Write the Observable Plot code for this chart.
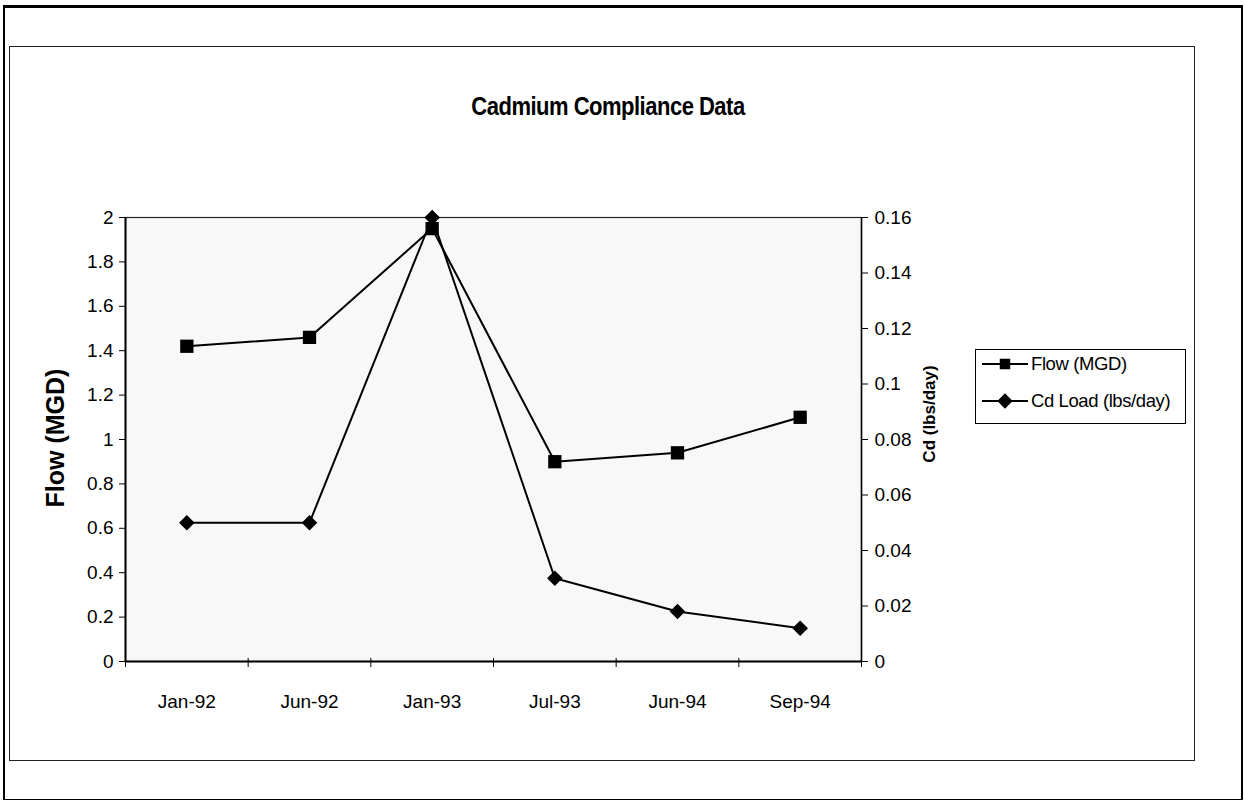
<!DOCTYPE html>
<html>
<head>
<meta charset="utf-8">
<script src="https://cdn.jsdelivr.net/npm/d3@7"></script>
<script src="https://cdn.jsdelivr.net/npm/@observablehq/plot@0.6"></script>
<style>
  html, body { margin: 0; padding: 0; background: #fff; }
  #page { position: relative; width: 1244px; height: 800px; overflow: hidden; font-family: "Liberation Sans", Arial, sans-serif; color: #000; }
  #outer { position: absolute; left: 3px; top: 5px; width: 1236px; height: 791px; border: 2px solid #000; border-top-width: 3px; }
  #inner { position: absolute; left: 9px; top: 46px; width: 1184px; height: 713px; border: 1px solid #222; }
  #title { position: absolute; left: 608px; top: 107px; transform: translate(-50%, -50%) scaleY(1.15); font-weight: bold; font-size: 22px; letter-spacing: -0.5px; white-space: nowrap; }
  .ytitle { position: absolute; font-weight: bold; white-space: nowrap; transform: translate(-50%, -50%) rotate(-90deg); }
  #chart { position: absolute; left: 0; top: 0; }
  #legend { position: absolute; left: 975px; top: 349px; width: 209px; height: 73px; border: 1px solid #000; background: #fff; }
  .lg { position: absolute; left: 6px; height: 22px; display: flex; align-items: center; font-size: 18.5px; white-space: nowrap; letter-spacing: -0.4px; }
  .lg svg { margin-right: 3px; display: block; }
</style>
</head>
<body>
<div id="page">
  <div id="outer"></div>
  <div id="inner"></div>
  <div id="title"></div>
  <div id="chart"></div>
  <div class="ytitle" id="yl" style="left:55px; top:438px; font-size:25px;"></div>
  <div class="ytitle" id="yr" style="left:930px; top:414px; font-size:17px;"></div>
  <div id="legend"></div>
</div>
<script>
// ---- data ----
const titleText = "Cadmium Compliance Data";
const categories = ["Jan-92", "Jun-92", "Jan-93", "Jul-93", "Jun-94", "Sep-94"];
const flowMGD = [1.42, 1.46, 1.95, 0.90, 0.94, 1.10];
const cdLoad = [0.050, 0.050, 0.160, 0.030, 0.018, 0.012];
const flowTicks = [0, 0.2, 0.4, 0.6, 0.8, 1, 1.2, 1.4, 1.6, 1.8, 2];
const cdTicks = [0, 0.02, 0.04, 0.06, 0.08, 0.1, 0.12, 0.14, 0.16];
const flowLabel = "Flow (MGD)";
const cdLabel = "Cd (lbs/day)";
const seriesNames = ["Flow (MGD)", "Cd Load (lbs/day)"];

// ---- derived ----
const flowMax = flowTicks[flowTicks.length - 1];
const cdMax = cdTicks[cdTicks.length - 1];
const k = flowMax / cdMax; // right axis -> left axis
const rows = categories.map((c, i) => ({pos: i + 0.5, cat: c, flow: flowMGD[i], cd: cdLoad[i] * k}));
const boundaries = d3.range(categories.length + 1);
const centers = categories.map((c, i) => i + 0.5);

document.getElementById("title").textContent = titleText;
document.getElementById("yl").textContent = flowLabel;
document.getElementById("yr").textContent = cdLabel;

const plot = Plot.plot({
  width: 1244,
  height: 800,
  marginLeft: 125,
  marginRight: 383,
  marginTop: 217,
  marginBottom: 139,
  style: {background: "transparent", fontFamily: "'Liberation Sans', Arial, sans-serif", fontSize: "19px", color: "#000", overflow: "visible"},
  x: {type: "linear", domain: [0, categories.length]},
  y: {domain: [0, flowMax]},
  marks: [
    Plot.frame({fill: "#f8f8f8", stroke: "#222", strokeWidth: 1.2}),
    Plot.ruleX([0], {stroke: "#000", strokeWidth: 2}),
    Plot.ruleX([categories.length], {stroke: "#000", strokeWidth: 1.5}),
    Plot.ruleY([0], {stroke: "#000", strokeWidth: 2}),
    Plot.axisY({ticks: flowTicks, anchor: "left", tickSize: 6, tickPadding: 6, tickFormat: d => String(d), label: null, fontSize: 19, letterSpacing: -0.5}),
    Plot.axisY({ticks: cdTicks.map(v => v * k), anchor: "right", tickSize: 6, tickPadding: 7, tickFormat: d => String(+(d / k).toFixed(2)), label: null, fontSize: 19, letterSpacing: -0.5}),
    Plot.ruleX(boundaries, {x: d => d, y1: 0, y2: 0, insetTop: -3, insetBottom: -6, stroke: "#000", strokeWidth: 1}),
    Plot.axisX({ticks: centers, tickSize: 0, tickPadding: 33, tickFormat: d => categories[Math.floor(d)], label: null, fontSize: 19, letterSpacing: -0.8}),
    Plot.line(rows, {x: "pos", y: "flow", stroke: "#000", strokeWidth: 2}),
    Plot.line(rows, {x: "pos", y: "cd", stroke: "#000", strokeWidth: 2}),
    Plot.dot(rows, {x: "pos", y: "flow", symbol: "square", r: 7.5, fill: "#000", stroke: "none"}),
    Plot.dot(rows, {x: "pos", y: "cd", symbol: "diamond2", r: 7, fill: "#000", stroke: "none"})
  ]
});
document.getElementById("chart").appendChild(plot);

// ---- legend ----
const legend = document.getElementById("legend");
const legendSymbols = [d3.symbolSquare, d3.symbolDiamond2];
const legendSizes = [110, 150];
const tops = [3, 40];
seriesNames.forEach((name, i) => {
  const item = document.createElement("div");
  item.className = "lg";
  item.style.top = tops[i] + "px";
  const svg = d3.create("svg").attr("width", 46).attr("height", 22);
  svg.append("line").attr("x1", 0).attr("x2", 46).attr("y1", 11).attr("y2", 11).attr("stroke", "#000").attr("stroke-width", 2);
  svg.append("path").attr("transform", "translate(23,11)").attr("d", d3.symbol(legendSymbols[i], legendSizes[i])()).attr("fill", "#000");
  item.appendChild(svg.node());
  const t = document.createElement("span");
  t.textContent = name;
  item.appendChild(t);
  legend.appendChild(item);
});
</script>
</body>
</html>
